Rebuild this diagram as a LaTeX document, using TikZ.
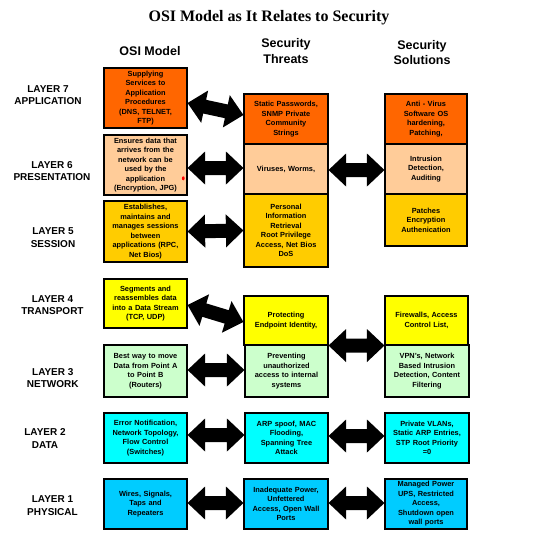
\documentclass[tikz,border=0pt]{standalone}
\usepackage{fontspec}
\setmainfont{Liberation Sans}
\newfontfamily\titlefont{Liberation Serif}
\usetikzlibrary{calc}
\definecolor{cseven}{HTML}{FF6600}
\definecolor{csix}{HTML}{FFCC99}
\definecolor{cfive}{HTML}{FFCC00}
\definecolor{cfour}{HTML}{FFFF00}
\definecolor{cthree}{HTML}{CCFFCC}
\definecolor{ctwo}{HTML}{00FFFF}
\definecolor{cone}{HTML}{00CCFF}
\tikzset{
  box/.style={draw=black, line width=1.1pt, align=center, inner sep=0pt, text width=79pt,
    font=\fontsize{7.4}{9.5}\selectfont\bfseries},
  lbl/.style={font=\fontsize{10}{12}\selectfont\bfseries, inner sep=0pt, anchor=base},
  hdr/.style={font=\fontsize{12.5}{15}\selectfont\bfseries, inner sep=0pt, anchor=base},
  fat/.style={fill=black},
}
\newcommand\bx[7]{%
  \pgfmathsetmacro\bxw{#4-#2}%
  \pgfmathsetmacro\bxh{#5-#3}%
  \node[box, fill=#6, minimum width=\bxw pt, minimum height=\bxh pt] (#1) at ({(#2+#4)/2},{(#3+#5)/2}) {#7};}
\newcommand\fatarrow[2]{%
  \coordinate (fa1) at ($(#1)!17.5pt!(#2)$);
  \coordinate (fa2) at ($(#2)!17.5pt!(#1)$);
  \fill[fat] (#1) -- ($(fa1)!16.5pt!90:(#2)$) -- ($(fa1)!7pt!90:(#2)$)
    -- ($(fa2)!7pt!-90:(#1)$) -- ($(fa2)!16.5pt!-90:(#1)$) -- (#2)
    -- ($(fa2)!16.5pt!90:(#1)$) -- ($(fa2)!7pt!90:(#1)$)
    -- ($(fa1)!7pt!-90:(#2)$) -- ($(fa1)!16.5pt!-90:(#2)$) -- cycle;}
\begin{document}
\begin{tikzpicture}[x=1pt,y=-1pt]
\useasboundingbox[fill=white] (0,0) rectangle (558,541);
% title and headers
\node[anchor=base, inner sep=0pt, font=\titlefont\fontsize{16}{18}\selectfont\bfseries] (title) at (269,21) {OSI Model as It Relates to Security};
\node[hdr] (h1) at (150,55) {OSI Model};
\node[hdr] (h2a) at (286,47.7) {Security};
\node[hdr] (h2b) at (286,63) {Threats};
\node[hdr] (h3a) at (422,49.3) {Security};
\node[hdr] (h3b) at (422,64.3) {Solutions};
% layer labels
\node[lbl] (l7a) at (48,92.7) {LAYER 7};
\node[lbl] (l7b) at (48,104.3) {APPLICATION};
\node[lbl] (l6a) at (52,168) {LAYER 6};
\node[lbl] (l6b) at (52,180) {PRESENTATION};
\node[lbl] (l5a) at (53,234) {LAYER 5};
\node[lbl] (l5b) at (53,247.7) {SESSION};
\node[lbl] (l4a) at (52.5,302) {LAYER 4};
\node[lbl] (l4b) at (52.5,314.7) {TRANSPORT};
\node[lbl] (l3a) at (52.8,375) {LAYER 3};
\node[lbl] (l3b) at (52.8,387.7) {NETWORK};
\node[lbl] (l2a) at (45,435) {LAYER 2};
\node[lbl] (l2b) at (45,448.7) {DATA};
\node[lbl] (l1a) at (52.5,502.7) {LAYER 1};
\node[lbl] (l1b) at (52.5,515.7) {PHYSICAL};
% OSI model boxes
\bx{o7}{104}{68}{187}{128}{cseven}{Supplying\\Services to\\Application\\Procedures\\(DNS, TELNET,\\FTP)}
\bx{o6}{104}{135}{187}{195}{csix}{Ensures data that\\arrives from the\\network can be\\used by the\\application\\(Encryption, JPG)}
\bx{o5}{104}{201}{187}{262}{cfive}{Establishes,\\maintains and\\manages sessions\\between\\applications (RPC,\\Net Bios)}
\bx{o4}{104}{279}{187}{328}{cfour}{Segments and\\reassembles data\\into a Data Stream\\(TCP, UDP)}
\bx{o3}{104}{345}{187}{397}{cthree}{Best way to move\\Data from Point A\\to Point B\\(Routers)}
\bx{o2}{104}{413}{187}{463}{ctwo}{Error Notification,\\Network Topology,\\Flow Control\\(Switches)}
\bx{o1}{104}{479}{187}{529}{cone}{Wires, Signals,\\Taps and\\Repeaters}
% threats
\bx{t7}{244}{94}{328}{144}{cseven}{Static Passwords,\\SNMP Private\\Community\\Strings}
\bx{t6}{244}{144}{328}{194}{csix}{Viruses, Worms,}
\bx{t5}{244}{194}{328}{267}{cfive}{Personal\\Information\\Retrieval\\Root Privilege\\Access, Net Bios\\DoS}
\bx{t4}{244}{296}{328}{345}{cfour}{Protecting\\Endpoint Identity,}
\bx{t3}{245}{345}{328}{397}{cthree}{Preventing\\unauthorized\\access to internal\\systems}
\bx{t2}{245}{413}{328}{463}{ctwo}{ARP spoof, MAC\\Flooding,\\Spanning Tree\\Attack}
\bx{t1}{244}{479}{328}{529}{cone}{Inadequate Power,\\Unfettered\\Access, Open Wall\\Ports}
% solutions
\bx{s7}{385}{94}{467}{144}{cseven}{Anti - Virus\\Software OS\\hardening,\\Patching,}
\bx{s6}{385}{144}{467}{194}{csix}{Intrusion\\Detection,\\Auditing}
\bx{s5}{385}{194}{467}{246}{cfive}{Patches\\Encryption\\Authenication}
\bx{s4}{385}{296}{468}{345}{cfour}{Firewalls, Access\\Control List,}
\bx{s3}{385}{345}{469}{397}{cthree}{VPN's, Network\\Based Intrusion\\Detection, Content\\Filtering}
\bx{s2}{385}{413}{469}{463}{ctwo}{Private VLANs,\\Static ARP Entries,\\STP Root Priority\\=0}
\bx{s1}{385}{479}{467}{529}{cone}{Managed Power\\UPS, Restricted\\Access,\\Shutdown open\\wall ports}
% small red mark
\fill[red] (183.3,178.3) ellipse (1.4pt and 2pt);
% arrow end points
\coordinate (a7l) at ($(o7.east)+(0,5)$);
\coordinate (a7r) at ($(t7.west)+(0,-4)$);
\coordinate (a6l) at ($(o6.east)+(0,3)$);
\coordinate (a6r) at ($(t6.west)+(0,-1)$);
\coordinate (a5l) at (o5.east);
\coordinate (a5r) at (t5.west);
\coordinate (a4l) at ($(o4.east)+(0,1.5)$);
\coordinate (a4r) at ($(t4.west)+(0,1.5)$);
\coordinate (a3l) at ($(o3.east)+(0,-1)$);
\coordinate (a3r) at ($(t3.west)+(0,-1)$);
\coordinate (a2l) at ($(o2.east)+(0,-3)$);
\coordinate (a2r) at ($(t2.west)+(0,-3)$);
\coordinate (a1l) at ($(o1.east)+(0,-1)$);
\coordinate (a1r) at ($(t1.west)+(0,-1)$);
\coordinate (b6l) at ($(t6.east)+(0,1)$);
\coordinate (b6r) at ($(s6.west)+(0,1)$);
\coordinate (b4l) at (t4.south east);
\coordinate (b4r) at (s4.south west);
\coordinate (b2l) at ($(t2.east)+(0,-2)$);
\coordinate (b2r) at ($(s2.west)+(0,-2)$);
\coordinate (b1l) at ($(t1.east)+(0,-1)$);
\coordinate (b1r) at ($(s1.west)+(0,-1)$);
% arrows
\fatarrow{a7l}{a7r}
\fatarrow{a6l}{a6r}
\fatarrow{a5l}{a5r}
\fatarrow{a4l}{a4r}
\fatarrow{a3l}{a3r}
\fatarrow{a2l}{a2r}
\fatarrow{a1l}{a1r}
\fatarrow{b6l}{b6r}
\fatarrow{b4l}{b4r}
\fatarrow{b2l}{b2r}
\fatarrow{b1l}{b1r}
\end{tikzpicture}
\end{document}
